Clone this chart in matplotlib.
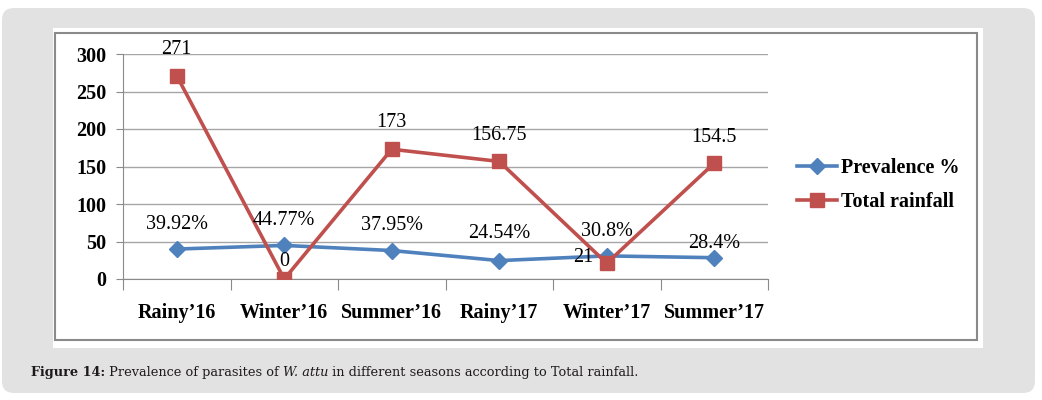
import matplotlib.pyplot as plt
from matplotlib.patches import FancyBboxPatch, Rectangle

seasons = ["Rainy\u201916", "Winter\u201916", "Summer\u201916",
           "Rainy\u201917", "Winter\u201917", "Summer\u201917"]
prevalence = [39.92, 44.77, 37.95, 24.54, 30.8, 28.4]
prevalence_labels = ["39.92%", "44.77%", "37.95%", "24.54%", "30.8%", "28.4%"]
rainfall = [271, 0, 173, 156.75, 21, 154.5]
rainfall_labels = ["271", "0", "173", "156.75", "21", "154.5"]

# label offsets in pixels (dx, dy) from each point
prev_off = [(0, 25), (0, 25), (0, 25), (0, 27), (0, 24), (0, 14)]
rain_off = [(0, 26), (0, 18), (0, 27), (0, 26), (-23, 6), (0, 26)]

BLUE = "#4F81BD"
RED = "#C0504D"
serif = "Liberation Serif"

W, H = 1042, 400
fig = plt.figure(figsize=(W / 100, H / 100), dpi=100)
fig.patch.set_facecolor("white")

# page-like background panels (pixel coords, origin bottom-left)
fig.add_artist(FancyBboxPatch((2, 7), 1033, 385, boxstyle="round,pad=0,rounding_size=12",
                              transform=None, fc="#e2e2e2", ec="none", zorder=-10))
fig.add_artist(Rectangle((53, 52), 930, 320, transform=None, fc="white", ec="none", zorder=-9))
fig.add_artist(Rectangle((55, 60), 922, 307, transform=None, fc="white", ec="#8a8a8a",
                         lw=1.5, zorder=-8))

ax = fig.add_axes([123 / W, 121 / H, 645 / W, 225 / H])
ax.set_facecolor("none")
x = list(range(len(seasons)))

ax.plot(x, prevalence, color=BLUE, lw=2.6, marker="D", ms=8.5, label="Prevalence %", zorder=3)
ax.plot(x, rainfall, color=RED, lw=2.6, marker="s", ms=9.5, label="Total rainfall", zorder=4)

for xi, yi, lab, off in zip(x, prevalence, prevalence_labels, prev_off):
    ax.annotate(lab, (xi, yi), xytext=(off[0] * 0.72, off[1] * 0.72), textcoords="offset points",
                ha="center", va="center", fontsize=14.5, family=serif, zorder=5)
for xi, yi, lab, off in zip(x, rainfall, rainfall_labels, rain_off):
    ax.annotate(lab, (xi, yi), xytext=(off[0] * 0.72, off[1] * 0.72), textcoords="offset points",
                ha="center", va="center", fontsize=14.5, family=serif, zorder=5)

ax.set_xlim(-0.5, 5.5)
ax.set_ylim(0, 300)
ax.set_yticks(range(0, 301, 50))
ax.set_xticks([i - 0.5 for i in range(7)])
ax.set_xticklabels([])
ax.set_xticks(x, minor=True)
ax.set_xticklabels(seasons, minor=True)
ax.tick_params(axis="x", which="major", length=8, color="#8a8a8a", direction="out")
ax.tick_params(axis="x", which="minor", length=0, pad=17)
ax.tick_params(axis="y", length=5, color="#8a8a8a", pad=7)
for lab in ax.get_xticklabels(minor=True) + ax.get_yticklabels():
    lab.set_family(serif)
    lab.set_fontweight("bold")
    lab.set_fontsize(14.5)

ax.grid(axis="y", color="#a6a6a6", lw=1)
ax.set_axisbelow(True)
for s in ["top", "right"]:
    ax.spines[s].set_visible(False)
for s in ["left", "bottom"]:
    ax.spines[s].set_color("#8a8a8a")

fig.legend(loc="upper left", bbox_to_anchor=(797 / W, (H - 158) / H), frameon=False,
           prop={"family": serif, "weight": "bold", "size": 14.5},
           handlelength=2.0, handletextpad=0.2, labelspacing=0.7, borderpad=0, borderaxespad=0)

# caption: bold label, normal text, italic species name
cap_font = "DejaVu Serif"
cap_y = (H - 376) / H
t = fig.text(31 / W, cap_y, "Figure 14:", family=cap_font, weight="bold", fontsize=9.3,
             color="#1e1a1b", va="baseline")
prev = t
for piece, style in [(" Prevalence of parasites of ", "normal"), ("W. attu", "italic"),
                     (" in different seasons according to Total rainfall.", "normal")]:
    prev = ax.annotate(piece, xy=(1, 0), xycoords=prev, va="bottom", ha="left",
                       family=cap_font, style=style, fontsize=9.3, color="#1e1a1b",
                       annotation_clip=False)

fig.savefig("out.png", dpi=100)
